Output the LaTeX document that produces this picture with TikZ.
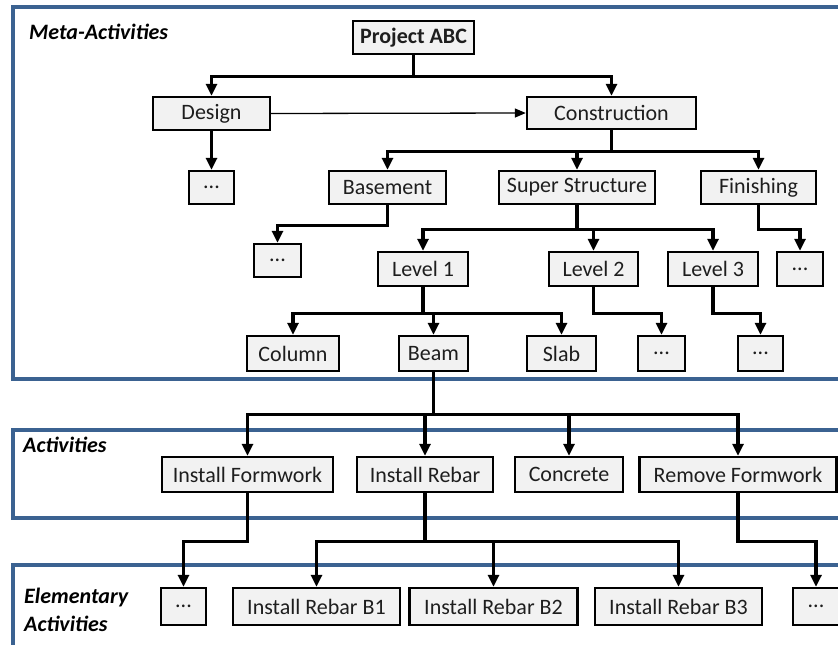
\documentclass[tikz,border=0pt]{standalone}
\usepackage{fontspec}
\setmainfont{Carlito}
\usetikzlibrary{arrows.meta}
\definecolor{panelblue}{HTML}{3B6291}
\definecolor{boxfill}{HTML}{F2F2F2}
\definecolor{inkgray}{HTML}{1E1E1E}

\begin{document}
\begin{tikzpicture}[x=1pt,y=-1pt,
  box/.style={draw=black, line width=2.4pt, fill=boxfill, inner sep=0pt,
    font=\fontsize{22}{24}\selectfont, text=inkgray},
  panel/.style={draw=panelblue, line width=4pt},
  tag/.style={font=\fontsize{22}{28}\selectfont\bfseries\itshape, inner sep=0pt, align=left},
  link/.style={line width=3.3pt, -{Triangle[length=12pt,width=11pt]}},
  thinlink/.style={line width=1.3pt, -{Triangle[length=11pt,width=9pt]}}
]
\useasboundingbox (0,0) rectangle (838,645);
\clip (0,0) rectangle (838,645);

% layer frames
\draw[panel] (12.5,7) rectangle (870,379);
\draw[panel] (12.5,430) rectangle (870,518);
\draw[panel] (12.5,565) rectangle (870,647);

\node[tag, anchor=base west] (metatag) at (29,39) {Meta-Activities};
\node[tag, anchor=base west] (acttag) at (23,452) {Activities};
\node[tag, anchor=north west] (elemtag) at (24,588) {Elementary\\Activities};

% meta-activities
\node[box, minimum width=121, minimum height=33, font=\fontsize{22}{24}\selectfont\bfseries] (proj) at (413.5,37.5) {Project ABC};
\node[box, minimum width=117, minimum height=33] (design) at (211.5,113.5) {Design};
\node[box, minimum width=169, minimum height=32] (constr) at (611.5,113) {Construction};
\node[box, minimum width=45, minimum height=33] (dd) at (211.5,187.5) {...};
\node[box, minimum width=117, minimum height=33] (base) at (387.5,187.5) {Basement};
\node[box, minimum width=156, minimum height=33] (super) at (577,187.5) {Super Structure};
\node[box, minimum width=115, minimum height=33] (finish) at (758.5,187.5) {Finishing};
\node[box, minimum width=47, minimum height=33] (bd) at (277.5,260.5) {...};
\node[box, minimum width=90, minimum height=34] (lvA) at (423,269) {Level 1};
\node[box, minimum width=89, minimum height=34] (lvB) at (593.5,269) {Level 2};
\node[box, minimum width=90, minimum height=34] (lvC) at (713,269) {Level 3};
\node[box, minimum width=46, minimum height=34] (fd) at (800,269) {...};
\node[box, minimum width=92, minimum height=35] (col) at (293,353.5) {Column};
\node[box, minimum width=69, minimum height=35] (beam) at (433.5,353.5) {Beam};
\node[box, minimum width=69, minimum height=35] (slab) at (561.5,353.5) {Slab};
\node[box, minimum width=47, minimum height=35] (lvBd) at (661.5,353.5) {...};
\node[box, minimum width=45, minimum height=35] (lvCd) at (760.5,353.5) {...};

% activities
\node[box, minimum width=171, minimum height=35] (form) at (247.5,474.5) {Install Formwork};
\node[box, minimum width=136, minimum height=35] (rebar) at (425,474.5) {Install Rebar};
\node[box, minimum width=108, minimum height=35] (conc) at (569,474.5) {Concrete};
\node[box, minimum width=197, minimum height=35] (remove) at (738,474.5) {Remove Formwork};

% elementary activities
\node[box, minimum width=45, minimum height=37] (ea) at (183.5,606.5) {...};
\node[box, minimum width=167, minimum height=37] (rb1) at (316.5,606.5) {Install Rebar B1};
\node[box, minimum width=168, minimum height=37] (rb2) at (493.5,606.5) {Install Rebar B2};
\node[box, minimum width=167, minimum height=37] (rb3) at (678.5,606.5) {Install Rebar B3};
\node[box, minimum width=46, minimum height=37] (eb) at (816,606.5) {...};

% hierarchy connectors
\draw[link] (proj.south) -- ++(0,21) -| (design.north);
\draw[link] (proj.south) -- ++(0,21) -| (constr.north);
\draw[thinlink] (design.east) -- (constr.west);
\draw[link] (design.south) -- (dd.north);

\draw[link] (constr.south) -- ++(0,21) -| (base.north);
\draw[link] (constr.south) -- ++(0,21) -| (super.north);
\draw[link] (constr.south) -- ++(0,21) -| (finish.north);

\draw[link] (base.south) -- ++(0,20) -| (bd.north);
\draw[link] (super.south) -- ++(0,24) -| (lvA.north);
\draw[link] (super.south) -- ++(0,24) -| (lvB.north);
\draw[link] (super.south) -- ++(0,24) -| (lvC.north);
\draw[link] (finish.south) -- ++(0,24) -| (fd.north);

\draw[link] (lvA.south) -- ++(0,26) -| (col.north);
\draw[link] (lvA.south) -- ++(0,26) -| (beam.north);
\draw[link] (lvA.south) -- ++(0,26) -| (slab.north);
\draw[link] (lvB.south) -- ++(0,26) -| (lvBd.north);
\draw[link] (lvC.south) -- ++(0,26) -| (lvCd.north);

\draw[link] (beam.south) -- ++(0,42) -| (form.north);
\draw[link] (beam.south) -- ++(0,42) -| (rebar.north);
\draw[link] (beam.south) -- ++(0,42) -| (conc.north);
\draw[link] (beam.south) -- ++(0,42) -| (remove.north);

\draw[link] (form.south) -- ++(0,48) -| (ea.north);
\draw[link] (rebar.south) -- ++(0,48) -| (rb1.north);
\draw[link] (rebar.south) -- ++(0,48) -| (rb2.north);
\draw[link] (rebar.south) -- ++(0,48) -| (rb3.north);
\draw[link] (remove.south) -- ++(0,48) -| (eb.north);
\end{tikzpicture}
\end{document}
